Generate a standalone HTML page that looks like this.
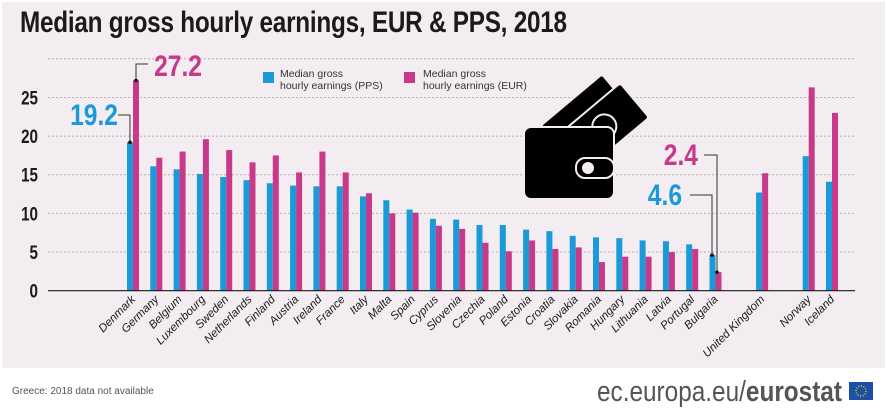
<!DOCTYPE html>
<html><head><meta charset="utf-8">
<style>
body{margin:0;width:887px;height:416px;background:#fff;overflow:hidden;font-family:"Liberation Sans",sans-serif;}
#panel{position:absolute;left:2px;top:2px;width:883px;height:366px;background:#f3edf1;}
#title{position:absolute;left:20px;top:6px;font-weight:bold;font-size:30px;color:#1a1a1a;transform:scaleX(0.81);transform-origin:left top;white-space:nowrap;letter-spacing:-0.3px}
svg{position:absolute;left:0;top:0}
</style></head><body>
<div id="panel"></div>
<div id="title">Median gross hourly earnings, EUR &amp; PPS, 2018</div>
<svg id="chart" width="887" height="416"></svg>
<script>
const countries=["Denmark","Germany","Belgium","Luxembourg","Sweden","Netherlands","Finland","Austria","Ireland","France","Italy","Malta","Spain","Cyprus","Slovenia","Czechia","Poland","Estonia","Croatia","Slovakia","Romania","Hungary","Lithuania","Latvia","Portugal","Bulgaria","United Kingdom","Norway","Iceland"];
const slots=[0,1,2,3,4,5,6,7,8,9,10,11,12,13,14,15,16,17,18,19,20,21,22,23,24,25,27,29,30];
const pps=[19.2,16.1,15.7,15.1,14.7,14.3,13.9,13.6,13.5,13.5,12.2,11.7,10.5,9.3,9.2,8.5,8.5,7.9,7.7,7.1,6.9,6.8,6.5,6.4,6.0,4.6,12.7,17.4,14.1];
const eur=[27.2,17.2,18.0,19.6,18.2,16.6,17.5,15.3,18.0,15.3,12.6,10.0,10.1,8.4,8.0,6.2,5.1,6.5,5.4,5.6,3.7,4.4,4.4,5.0,5.4,2.4,15.2,26.3,23.0];
const yTicks=[0,5,10,15,20,25];
const NS="http://www.w3.org/2000/svg";
const svg=document.getElementById('chart');
const y=v=>290.7-v*7.73;
const x=s=>127+s*23.3;
function mk(t,a,parent){const e=document.createElementNS(NS,t);for(const k in a)e.setAttribute(k,a[k]);(parent||svg).appendChild(e);return e;}
[...yTicks,30].forEach(v=>{
  if(v>0){const g=mk('line',{x1:48,x2:855,y1:y(v),y2:y(v),stroke:'#b8b0b6','stroke-width':1,'stroke-dasharray':'2,2'});
  
  }
});
yTicks.forEach(v=>{
  const t=mk('text',{x:38,y:y(v)+7,'text-anchor':'end','font-size':19,'font-weight':'bold',fill:'#1a1a1a',transform:`translate(38 0) scale(0.8 1) translate(-38 0)`});
  t.textContent=v;
  
  
});
countries.forEach((c,i)=>{
  const bx=x(slots[i]);
  const b1=mk('rect',{x:bx,y:y(pps[i]),width:6,height:y(0)-y(pps[i]),fill:'#1a9ad9'});
  
  
  const b2=mk('rect',{x:bx+6,y:y(eur[i]),width:6,height:y(0)-y(eur[i]),fill:'#c8398a'});
  
  
  const lx=bx+9,ly=300;
  const t=mk('text',{x:lx,y:ly,'text-anchor':'end','font-size':11.5,'font-style':'italic',fill:'#1a1a1a',transform:`rotate(-45 ${lx} ${ly})`});
  t.textContent=c;
  
  
});
const ax=mk('line',{x1:48,x2:855,y1:y(0),y2:y(0),stroke:'#1a1a1a','stroke-width':1.2});


function ann(txt,color,tx,ty,path,dot,name){
  const t=mk('text',{x:tx,y:ty,'text-anchor':'end','font-size':30,'font-weight':'bold',fill:color,transform:`translate(${tx} 0) scale(0.82 1) translate(${-tx} 0)`});
  t.textContent=txt;
  
  
  mk('polyline',{points:path,fill:'none',stroke:'#333','stroke-width':1});
  mk('circle',{cx:dot[0],cy:dot[1],r:1.8,fill:'#111'});
}
ann('19.2','#1a9ad9',118,125,`118,115 130,115 130,${y(pps[0])}`,[130,y(pps[0])],'annotation-denmark-pps');
ann('27.2','#c8398a',202,76,`148,64 136,64 136,${y(eur[0])}`,[136,y(eur[0])],'annotation-denmark-eur');
ann('2.4','#c8398a',698,165,`704,155 717,155 717,${y(eur[25])}`,[717,y(eur[25])],'annotation-bulgaria-eur');
ann('4.6','#1a9ad9',682,205,`690,195 712,195 712,${y(pps[25])}`,[712,y(pps[25])],'annotation-bulgaria-pps');
</script>
<svg width="887" height="416" style="pointer-events:none">
 <g font-family="Liberation Sans" font-size="10.5" fill="#333">
  <rect x="263" y="72" width="11" height="11" fill="#1a9ad9"/>
  <text x="280" y="77">Median gross</text><text x="280" y="89">hourly earnings (PPS)</text>
  <rect x="404" y="72" width="11" height="11" fill="#c8398a"/>
  <text x="423" y="77">Median gross</text><text x="423" y="89">hourly earnings (EUR)</text>
 </g>
 <g stroke="#f3edf1" stroke-width="2">
  <g transform="rotate(-40 590 130)"><rect x="555" y="95" width="80" height="45" rx="3" fill="#000"/></g>
  <g transform="rotate(-40 605 135)"><rect x="570" y="105" width="80" height="45" rx="3" fill="#000"/><circle cx="610" cy="128" r="12" fill="none"/></g>
  <rect x="524" y="127" width="90" height="72" rx="7" fill="#000"/>
  <rect x="576" y="158" width="38" height="20" rx="9" fill="#000"/>
  <circle cx="588" cy="168" r="6" fill="#f3edf1" stroke="none"/>
 </g>
 <text x="12" y="394" font-size="10" fill="#555">Greece: 2018 data not available</text>
 <g>
  <text x="597" y="401" font-size="29" fill="#555" transform="translate(597 0) scale(0.84 1) translate(-597 0)">ec.europa.eu/<tspan font-weight="bold">eurostat</tspan></text>
  <rect x="849" y="382" width="24" height="18" fill="#1d4fa8"/>
  <circle cx="861" cy="391" r="5" fill="none" stroke="#f5d000" stroke-width="1.5" stroke-dasharray="1,1.6"/>
 </g>
</svg>
</body></html>
